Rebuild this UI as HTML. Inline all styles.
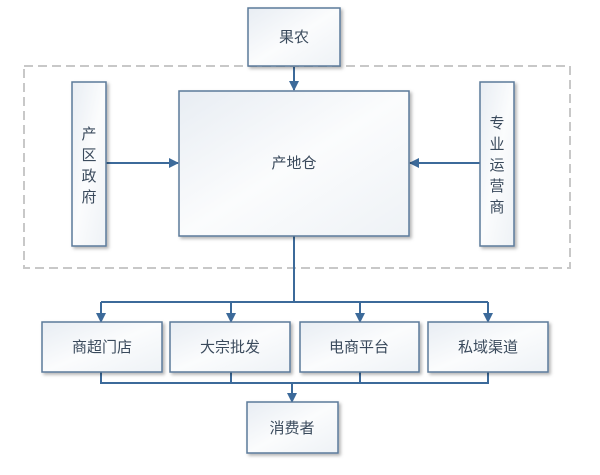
<!DOCTYPE html>
<html><head><meta charset="utf-8"><style>
body{margin:0;background:#fff;}
svg text{font-family:"Liberation Sans","Noto Sans CJK SC",sans-serif;font-size:15px;fill:#3a4a5c;}
</style></head><body>
<svg width="600" height="470" viewBox="0 0 600 470" xmlns="http://www.w3.org/2000/svg">
<defs>
<linearGradient id="g" x1="0" y1="0" x2="1" y2="1"><stop offset="0" stop-color="#e8edf3"/><stop offset="0.5" stop-color="#fbfcfd"/><stop offset="1" stop-color="#eef2f6"/></linearGradient>
<filter id="s" x="-10%" y="-10%" width="130%" height="130%"><feDropShadow dx="2" dy="2" stdDeviation="1.5" flood-color="#000" flood-opacity="0.3"/></filter>
<marker id="a" markerWidth="10" markerHeight="10" refX="9" refY="5" orient="auto" markerUnits="userSpaceOnUse"><path d="M0,0 L10,5 L0,10 z" fill="#3c6a9a"/></marker>
</defs>
<rect x="24" y="66" width="546" height="202" fill="none" stroke="#c8c8c8" stroke-width="2" stroke-dasharray="9,5"/>
<g stroke="#3c6a9a" stroke-width="2" fill="none">
<line x1="294" y1="67" x2="294" y2="90" marker-end="url(#a)"/>
<line x1="106" y1="163" x2="178" y2="163" marker-end="url(#a)"/>
<line x1="480" y1="163" x2="410" y2="163" marker-end="url(#a)"/>
<polyline points="294,236 294,302"/>
<line x1="101" y1="302" x2="488" y2="302"/>
<line x1="101" y1="302" x2="101" y2="322" marker-end="url(#a)"/>
<line x1="231" y1="302" x2="231" y2="322" marker-end="url(#a)"/>
<line x1="360" y1="302" x2="360" y2="322" marker-end="url(#a)"/>
<line x1="488" y1="302" x2="488" y2="322" marker-end="url(#a)"/>
<polyline points="101,372 101,383 488,383 488,372"/>
<line x1="231" y1="372" x2="231" y2="383"/>
<line x1="360" y1="372" x2="360" y2="383"/>
<line x1="292" y1="383" x2="292" y2="402" marker-end="url(#a)"/>
</g>
<g fill="url(#g)" stroke="#5b7a9a" stroke-width="1.5" filter="url(#s)">
<rect x="248" y="8" width="92" height="58"/>
<rect x="72" y="82" width="34" height="164"/>
<rect x="480" y="82" width="34" height="164"/>
<rect x="179" y="91" width="230" height="145"/>
<rect x="42" y="322" width="120" height="50"/>
<rect x="170" y="322" width="120" height="50"/>
<rect x="300" y="322" width="119" height="50"/>
<rect x="428" y="322" width="120" height="50"/>
<rect x="247" y="402" width="91" height="51"/>
</g>
<g text-anchor="middle">
<text x="294" y="42">果农</text>
<text x="294" y="168">产地仓</text>
<text x="89" y="139">产</text><text x="89" y="160">区</text><text x="89" y="181">政</text><text x="89" y="202">府</text>
<text x="497" y="128">专</text><text x="497" y="149">业</text><text x="497" y="170">运</text><text x="497" y="191">营</text><text x="497" y="212">商</text>
<text x="102" y="352">商超门店</text>
<text x="230" y="352">大宗批发</text>
<text x="359" y="352">电商平台</text>
<text x="488" y="352">私域渠道</text>
<text x="292" y="433">消费者</text>
</g>
</svg>
</body></html>
